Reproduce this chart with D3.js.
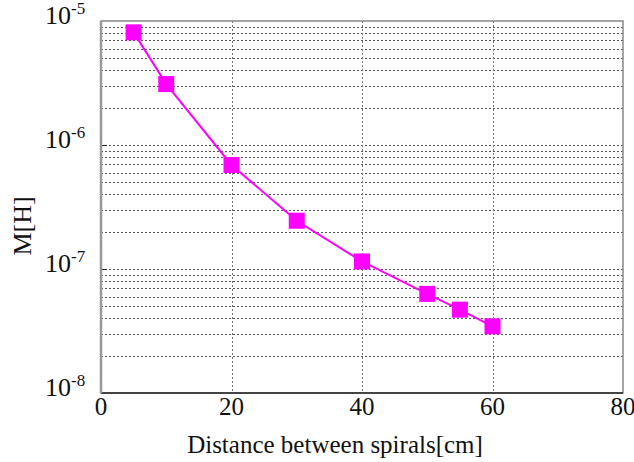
<!DOCTYPE html>
<html>
<head>
<meta charset="utf-8">
<script src="https://cdn.jsdelivr.net/npm/d3@7"></script>
<style>
  body { margin: 0; background: #fff; }
</style>
</head>
<body>
<div id="chart"></div>
<script>
// distance between spirals [cm] vs mutual inductance M [H]
const distances = [5, 10, 20, 30, 40, 50, 55, 60]
const inductance = [8.1e-6, 3.1e-6, 6.9e-7, 2.45e-7, 1.15e-7, 6.3e-8, 4.7e-8, 3.45e-8]
const xTicks = [0, 20, 40, 60, 80]
const yExponents = [-5, -6, -7, -8]

const W = 634, H = 462
const margin = { top: 21, left: 101, right: 11, bottom: 69 }
const width = W - margin.left - margin.right
const height = H - margin.top - margin.bottom
const serif = "'Liberation Serif', 'DejaVu Serif', serif"

const svg = d3.select('#chart')
  .append('svg')
  .attr('width', W)
  .attr('height', H)
  .style('font-family', serif)

const g = svg.append('g')
  .attr('transform', 'translate(' + margin.left + ',' + margin.top + ')')

const x = d3.scaleLinear().domain([0, 80]).range([0, width])
const y = d3.scaleLog().domain([1e-8, 1e-5]).range([height, 0])

// horizontal grid: every minor + major tick inside the plot
const gridVals = y.ticks().filter(v => v > 1e-8 * 1.001 && v < 1e-5 * 0.999)
g.append('g')
  .selectAll('line')
  .data(gridVals)
  .enter()
  .append('line')
  .attr('x1', 0)
  .attr('x2', width)
  .attr('y1', d => Math.round(y(d)) + 0.5)
  .attr('y2', d => Math.round(y(d)) + 0.5)
  .attr('stroke', '#555')
  .attr('stroke-width', 1)
  .style('stroke-dasharray', '2 2')

// small solid ticks at decades
g.append('g')
  .selectAll('line')
  .data(gridVals.filter(v => Math.abs(Math.log10(v) - Math.round(Math.log10(v))) < 1e-6))
  .enter()
  .append('line')
  .attr('x1', 0)
  .attr('x2', 6)
  .attr('y1', d => Math.round(y(d)) + 0.5)
  .attr('y2', d => Math.round(y(d)) + 0.5)
  .attr('stroke', '#222')

// vertical grid
g.append('g')
  .selectAll('line')
  .data(xTicks.slice(1, -1))
  .enter()
  .append('line')
  .attr('x1', d => Math.round(x(d)) + 0.5)
  .attr('x2', d => Math.round(x(d)) + 0.5)
  .attr('y1', 0)
  .attr('y2', height)
  .attr('stroke', '#777')
  .style('stroke-dasharray', '2 2')

// frame
g.append('rect')
  .attr('x', 0)
  .attr('y', 0)
  .attr('width', width)
  .attr('height', height)
  .attr('fill', 'none')
  .attr('stroke', '#888')
  .attr('stroke-width', 1.5)
g.append('line')
  .attr('x1', 0).attr('x2', width)
  .attr('y1', height).attr('y2', height)
  .attr('stroke', '#444')
  .attr('stroke-width', 2)
g.append('line')
  .attr('x1', 0).attr('x2', 0)
  .attr('y1', 0).attr('y2', height)
  .attr('stroke', '#999')
  .attr('stroke-width', 2.5)

// x tick labels
g.append('g')
  .selectAll('text')
  .data(xTicks)
  .enter()
  .append('text')
  .attr('x', d => x(d))
  .attr('y', height + 22)
  .attr('text-anchor', 'middle')
  .attr('font-size', 25)
  .attr('fill', '#111')
  .text(d => d)

// y tick labels 10^n
const yl = g.append('g')
  .selectAll('text')
  .data(yExponents)
  .enter()
  .append('text')
  .attr('x', -56)
  .attr('y', d => y(Math.pow(10, d)) + 3)
  .attr('font-size', 26)
  .attr('fill', '#111')
yl.append('tspan').text('10')
yl.append('tspan')
  .attr('font-size', 17)
  .attr('dy', -10)
  .text(d => '-' + Math.abs(d))

// line + markers
const pts = distances.map((d, i) => ({ x: d, y: inductance[i] }))
const line = d3.line().x(d => x(d.x)).y(d => y(d.y))
g.append('path')
  .datum(pts)
  .attr('d', line)
  .attr('fill', 'none')
  .attr('stroke', '#ff00ff')
  .attr('stroke-width', 2)

const s = 16
g.append('g')
  .selectAll('rect')
  .data(pts)
  .enter()
  .append('rect')
  .attr('x', d => x(d.x) - s / 2)
  .attr('y', d => y(d.y) - s / 2)
  .attr('width', s)
  .attr('height', s)
  .attr('fill', '#ff00ff')

// axis titles
svg.append('text')
  .attr('x', 335)
  .attr('y', 453)
  .attr('text-anchor', 'middle')
  .attr('font-size', 25)
  .attr('fill', '#111')
  .text('Distance between spirals[cm]')

svg.append('text')
  .attr('transform', 'translate(31,226) rotate(-90)')
  .attr('text-anchor', 'middle')
  .attr('font-size', 26)
  .attr('fill', '#111')
  .text('M[H]')
</script>
</body>
</html>
